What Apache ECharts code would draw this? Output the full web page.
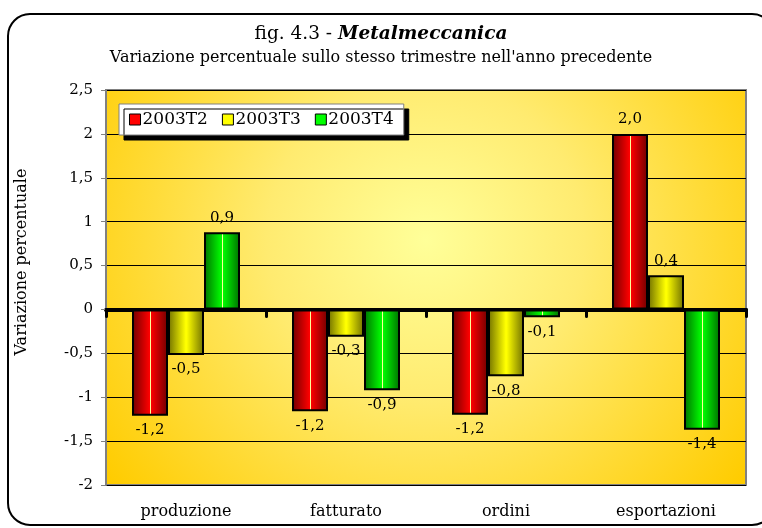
<!DOCTYPE html>
<html>
<head>
<meta charset="utf-8">
<script src="https://cdn.jsdelivr.net/npm/echarts@6/dist/echarts.min.js"></script>
<style>
  html, body { margin: 0; padding: 0; background: #fff; }
  #chart { width: 762px; height: 528px; }
</style>
</head>
<body>
<div id="chart"></div>
<script>
  // dati
  const categories = ['produzione', 'fatturato', 'ordini', 'esportazioni']
  const seriesNames = ['2003T2', '2003T3', '2003T4']
  const t2 = [-1.21, -1.16, -1.2, 2.0]
  const t3 = [-0.52, -0.31, -0.76, 0.39]
  const t4 = [0.88, -0.92, -0.09, -1.37]
  const yTicks = [-2, -1.5, -1, -0.5, 0, 0.5, 1, 1.5, 2, 2.5]

  const serif = 'DejaVu Serif'
  const fmt = v => v.toFixed(1).replace('.', ',')

  // colori: bordo scuro, centro chiaro, riga sottile al centro
  const barFill = (dark, bright, line) =>
    new echarts.graphic.LinearGradient(0, 0, 1, 0, [
      { offset: 0, color: dark },
      { offset: 0.49, color: bright },
      { offset: 0.49, color: line },
      { offset: 0.52, color: line },
      { offset: 0.52, color: bright },
      { offset: 1, color: dark }
    ])

  const styles = [
    { flat: '#ff0000', fill: barFill('#700000', '#ff0000', '#ffff99') },
    { flat: '#ffff00', fill: barFill('#707000', '#ffff00', '#ffff00') },
    { flat: '#00ff00', fill: barFill('#007000', '#00ff00', '#ffff99') }
  ]

  const makeSeries = (name, values, idx) => ({
    name,
    type: 'bar',
    xAxisIndex: 0,
    barWidth: 36,
    barGap: '0%',
    itemStyle: {
      color: styles[idx].fill,
      borderColor: '#000',
      borderWidth: 2
    },
    label: {
      show: true,
      distance: 7,
      fontFamily: serif,
      fontSize: 15,
      color: '#000',
      formatter: p => fmt(p.value)
    },
    data: values.map(v => ({
      value: v,
      label: { position: v < 0 ? 'bottom' : 'top' }
    }))
  })

  const chart = echarts.init(document.getElementById('chart'), null, { renderer: 'canvas' })

  const option = {
    animation: false,
    backgroundColor: '#fff',
    color: styles.map(s => s.flat),
    title: {
      left: 'center',
      top: 20,
      itemGap: 6,
      text: '{a|fig. 4.3 - }{b|Metalmeccanica}',
      textStyle: {
        rich: {
          a: { fontFamily: serif, fontSize: 18.5, fontWeight: 'normal', color: '#000' },
          b: { fontFamily: serif, fontSize: 18.5, fontWeight: 'bold', fontStyle: 'italic', color: '#000' }
        }
      },
      subtext: "Variazione percentuale sullo stesso trimestre nell'anno precedente",
      subtextStyle: { fontFamily: serif, fontSize: 16, color: '#000' }
    },
    legend: {
      left: 119,
      top: 104,
      data: seriesNames.map((n, i) => ({
        name: n,
        itemStyle: { color: styles[i].flat, borderColor: '#000', borderWidth: 1 }
      })),
      icon: 'rect',
      itemWidth: 11,
      itemHeight: 11,
      itemGap: 14,
      padding: [7, 10],
      backgroundColor: '#fff',
      borderColor: '#808080',
      borderWidth: 1,
      shadowColor: '#000',
      shadowBlur: 0,
      shadowOffsetX: 5,
      shadowOffsetY: 5,
      textStyle: { fontFamily: serif, fontSize: 17, color: '#000', padding: [0, 0, 0, -3] }
    },
    grid: {
      left: 106,
      right: 16,
      top: 90,
      bottom: 43,
      show: true,
      borderColor: '#808080',
      borderWidth: 2,
      backgroundColor: new echarts.graphic.RadialGradient(0.5, 0.38, 1.0, [
        { offset: 0, color: '#ffff99' },
        { offset: 0.4, color: '#ffeb70' },
        { offset: 1, color: '#ffcc00' }
      ])
    },
    xAxis: [
      {
        type: 'category',
        data: categories,
        position: 'bottom',
        axisLine: { show: false, onZero: false },
        axisTick: { show: false },
        axisLabel: { margin: 19, fontFamily: serif, fontSize: 16, color: '#000' }
      },
      {
        type: 'category',
        data: categories,
        position: 'top',
        axisLine: { show: true, onZero: true, lineStyle: { color: '#000', width: 4 } },
        axisTick: { show: true, inside: true, length: 7, lineStyle: { color: '#000', width: 3, cap: 'round' } },
        axisLabel: { show: false }
      }
    ],
    yAxis: {
      type: 'value',
      min: yTicks[0],
      max: yTicks[yTicks.length - 1],
      interval: 0.5,
      axisLine: { show: true, lineStyle: { color: '#808080', width: 2 } },
      axisTick: { show: true, length: 5, lineStyle: { color: '#808080', width: 1 } },
      axisLabel: { margin: 13, fontFamily: serif, fontSize: 15, color: '#000', formatter: v => String(v).replace('.', ',') },
      splitLine: { show: true, lineStyle: { color: '#000', width: 1 } }
    },
    graphic: [
      {
        type: 'rect',
        x: 8,
        y: 14,
        shape: { width: 766, height: 511, r: 22 },
        style: { fill: 'none', stroke: '#000', lineWidth: 2 },
        z: 100
      },
      {
        type: 'text',
        x: 22,
        y: 262,
        rotation: Math.PI / 2,
        style: {
          text: 'Variazione percentuale',
          fontFamily: serif,
          fontSize: 16,
          fill: '#000',
          align: 'center',
          verticalAlign: 'middle'
        }
      }
    ],
    series: [
      makeSeries(seriesNames[0], t2, 0),
      makeSeries(seriesNames[1], t3, 1),
      makeSeries(seriesNames[2], t4, 2)
    ]
  }

  chart.setOption(option)
</script>
</body>
</html>
